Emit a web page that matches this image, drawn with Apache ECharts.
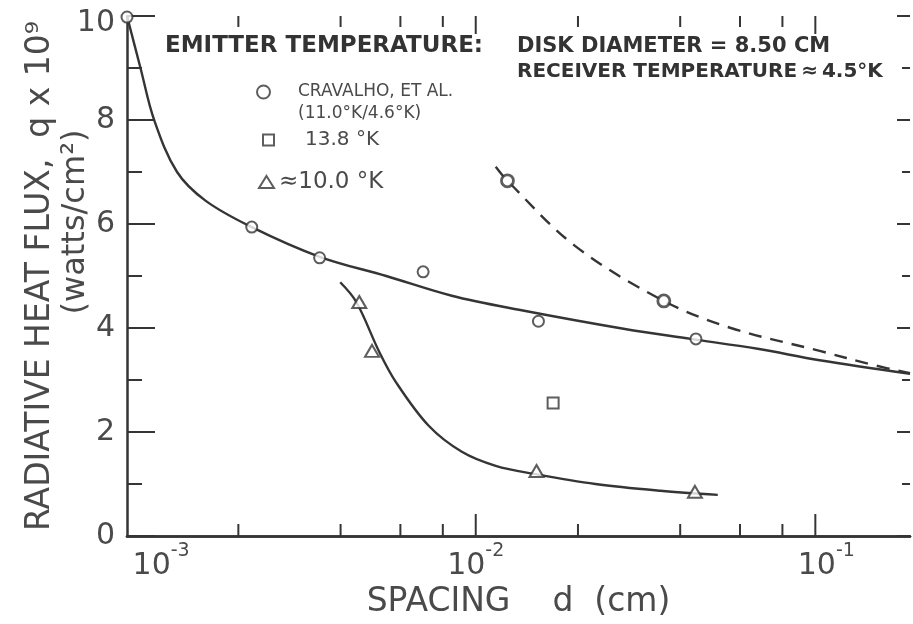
<!DOCTYPE html>
<html>
<head>
<meta charset="utf-8">
<script src="https://cdn.jsdelivr.net/npm/echarts@6/dist/echarts.min.js"></script>
<style>
  html, body { margin: 0; padding: 0; background: #fff; }
  #chart { width: 913px; height: 624px; }
</style>
</head>
<body>
<div id="chart"></div>
<script>
// ---- data: spacing d (cm) vs radiative heat flux q x 10^9 (W/cm^2) ----
const mainCurve = [
  [9.4e-4, 10.0], [1.03e-3, 9.0], [1.13e-3, 8.0], [1.32e-3, 7.0], [1.6e-3, 6.45],
  [2.19e-3, 5.94], [3.47e-3, 5.37], [5.45e-3, 5.0], [8.5e-3, 4.62], [1.34e-2, 4.35],
  [2.75e-2, 3.98], [4.3e-2, 3.79], [6.76e-2, 3.6], [0.103, 3.38], [0.19, 3.12]
];
const openCircles = [
  [9.4e-4, 9.98], [2.19e-3, 5.94], [3.47e-3, 5.35], [7.0e-3, 5.08], [1.53e-2, 4.13], [4.45e-2, 3.79]
];
const cravalhoCurve = [
  [1.145e-2, 7.10], [1.24e-2, 6.83], [1.96e-2, 5.58], [3.58e-2, 4.52], [5.64e-2, 4.0],
  [0.103, 3.56], [0.148, 3.29], [0.19, 3.13]
];
const cravalhoPoints = [[1.24e-2, 6.83], [3.58e-2, 4.52]];
const squarePoints = [[1.69e-2, 2.56]];
const triangleCurve = [
  [3.99e-3, 4.88], [4.45e-3, 4.5], [5.2e-3, 3.54], [5.82e-3, 2.96], [7.27e-3, 2.12],
  [9.1e-3, 1.62], [1.145e-2, 1.35], [1.5e-2, 1.19], [2.25e-2, 1.0], [3.5e-2, 0.87], [5.16e-2, 0.79]
];
const trianglePoints = [[4.54e-3, 4.5], [4.95e-3, 3.56], [1.51e-2, 1.25], [4.42e-2, 0.85]];

// tick marks drawn on the spacing axes (long at decades, short at 2,4,6,8)
const xMajorTicks = [1e-2, 1e-1];
const xMinorTicks = [2e-3, 4e-3, 6e-3, 8e-3, 2e-2, 4e-2, 6e-2, 8e-2];

// legend / annotation texts
const seriesNames = ['CRAVALHO, ET AL.', '13.8 °K', '≈10.0 °K'];
const cravalhoSubtitle = '(11.0°K/4.6°K)';
const headerLeft = 'EMITTER TEMPERATURE:';
const headerRight = ['DISK DIAMETER = 8.50 CM', 'RECEIVER TEMPERATURE\u2009≈\u20094.5°K'];
const xTitle = 'SPACING    d  (cm)';
const yTitle = 'RADIATIVE HEAT FLUX,  q x 10⁹';
const yUnit = '(watts/cm²)';

const X_MIN = 9.4e-4, X_MAX = 0.19;
const INK = '#353535';
const TXT = '#4a4a4a';
const FONT = '"DejaVu Sans", "Liberation Sans", sans-serif';
const LW = 2.4;

const xTickData = xMajorTicks.map(v => [v, 1]).concat(xMinorTicks.map(v => [v, 0]));

const chart = echarts.init(document.getElementById('chart'), null, { renderer: 'canvas' });

// decade labels are set a little to the right of their tick, more so at the ends
const labelLead = { '-3': 'l3', '-2': '', '-1': 'l1' };
function decadeLabel(v) {
  const e = Math.log10(v);
  if (Math.abs(e - Math.round(e)) > 1e-6) return '';
  const k = String(Math.round(e));
  const lead = labelLead[k] ? '{' + labelLead[k] + '|}' : '';
  return lead + '{b|10}{s|' + k + '}';
}
// the top flux label sits just below the corner
function fluxLabel(v) {
  return v === 10 ? '{top|10}' : String(v);
}

const legendBase = {
  orient: 'vertical',
  padding: 0,
  selectedMode: false,
  inactiveColor: INK
};

const option = {
  animation: false,
  backgroundColor: '#fff',
  grid: { left: 127, right: 0, top: 16, bottom: 87, containLabel: false },
  xAxis: [
    {
      type: 'log', logBase: 10, min: X_MIN, max: X_MAX, position: 'bottom',
      axisLine: { show: true, lineStyle: { color: INK, width: 2.5 } },
      axisTick: { show: false }, splitLine: { show: false },
      axisLabel: {
        show: true, margin: 6, formatter: decadeLabel,
        showMinLabel: true, showMaxLabel: true,
        rich: {
          b: { fontSize: 30, color: TXT, fontFamily: FONT, padding: [9, 0, 0, 0] },
          s: { fontSize: 19, color: TXT, fontFamily: FONT, verticalAlign: 'top' },
          l3: { width: 50, height: 10 },
          l1: { width: 22, height: 10 }
        }
      },
      name: xTitle, nameLocation: 'middle', nameGap: 50,
      nameTextStyle: { fontSize: 33, color: TXT, fontFamily: FONT }
    },
    {
      type: 'log', logBase: 10, min: X_MIN, max: X_MAX, position: 'top',
      axisLine: { show: true, lineStyle: { color: INK, width: 2.5 } },
      axisTick: { show: false }, axisLabel: { show: false }, splitLine: { show: false }
    }
  ],
  yAxis: [
    {
      type: 'value', min: 0, max: 10, interval: 2, position: 'left',
      axisLine: { show: true, lineStyle: { color: INK, width: 2.5 } },
      axisTick: { show: true, inside: true, length: 28, lineStyle: { color: INK, width: 2 } },
      minorTick: { show: true, splitNumber: 2, length: 15, lineStyle: { color: INK, width: 2 } },
      splitLine: { show: false }, minorSplitLine: { show: false },
      axisLabel: {
        color: TXT, fontSize: 30, fontFamily: FONT, margin: 12, formatter: fluxLabel,
        rich: { top: { fontSize: 30, color: TXT, fontFamily: FONT, padding: [14, 0, 0, 0] } }
      },
      name: yTitle, nameLocation: 'middle', nameRotate: 90, nameGap: 70,
      nameTextStyle: { fontSize: 33, color: TXT, fontFamily: FONT }
    },
    {
      type: 'value', min: 0, max: 10, interval: 2, position: 'right',
      axisLine: { show: false },
      axisTick: { show: true, inside: true, length: 13, lineStyle: { color: INK, width: 2 } },
      minorTick: { show: true, splitNumber: 2, length: 8, lineStyle: { color: INK, width: 2 } },
      splitLine: { show: false }, axisLabel: { show: false }
    }
  ],
  legend: [
    Object.assign({}, legendBase, {
      data: [seriesNames[0]], left: 256, top: 59, itemWidth: 13, itemHeight: 13,
      formatter: n => '\n{g|}' + n + '\n{g|}' + cravalhoSubtitle,
      textStyle: { fontSize: 17, color: TXT, fontFamily: FONT, lineHeight: 22,
        rich: { g: { width: 23 } } }
    }),
    Object.assign({}, legendBase, {
      data: [seriesNames[1]], left: 262, top: 128, itemWidth: 11, itemHeight: 11,
      formatter: n => '{g|}' + n,
      textStyle: { fontSize: 20, color: TXT, fontFamily: FONT, lineHeight: 24,
        rich: { g: { width: 26 } } }
    }),
    Object.assign({}, legendBase, {
      data: [seriesNames[2]], left: 258, top: 168, itemWidth: 15, itemHeight: 12,
      textStyle: { fontSize: 23, color: TXT, fontFamily: FONT, lineHeight: 28 }
    })
  ],
  graphic: [
    { type: 'text', left: 165, top: 35, silent: true,
      style: { text: headerLeft, font: 'bold 23px ' + FONT, fill: '#333' } },
    { type: 'text', left: 517, top: 36, silent: true,
      style: { text: headerRight[0], font: 'bold 21px ' + FONT, fill: '#333' } },
    { type: 'text', left: 517, top: 62, silent: true,
      style: { text: headerRight[1], font: 'bold 20px ' + FONT, fill: '#333' } },
    { type: 'text', x: 76, y: 222, rotation: Math.PI / 2, silent: true,
      style: { text: yUnit, font: '32px ' + FONT, fill: TXT, align: 'center', verticalAlign: 'middle' } }
  ],
  series: [
    {
      type: 'line', data: mainCurve, smooth: 0.35, showSymbol: false,
      lineStyle: { color: INK, width: LW }, silent: true, z: 2
    },
    {
      type: 'scatter', data: openCircles, symbol: 'circle', symbolSize: 11,
      itemStyle: { color: '#fff', borderColor: INK, borderWidth: 2 }, silent: true, z: 4
    },
    {
      type: 'line', data: cravalhoCurve, smooth: 0.35, showSymbol: false,
      lineStyle: { color: INK, width: LW, type: [13, 9] }, silent: true, z: 2
    },
    {
      name: seriesNames[0], type: 'scatter', data: cravalhoPoints, symbol: 'circle', symbolSize: 12,
      itemStyle: { color: '#fff', borderColor: INK, borderWidth: 2.8 }, silent: true, z: 4
    },
    {
      name: seriesNames[1], type: 'scatter', data: squarePoints, symbol: 'rect', symbolSize: 11,
      itemStyle: { color: '#fff', borderColor: INK, borderWidth: 2 }, silent: true, z: 4
    },
    {
      type: 'line', data: triangleCurve, smooth: 0.35, showSymbol: false,
      lineStyle: { color: INK, width: LW }, silent: true, z: 2
    },
    {
      name: seriesNames[2], type: 'scatter', data: trianglePoints, symbol: 'triangle', symbolSize: [14, 12],
      itemStyle: { color: '#fff', borderColor: INK, borderWidth: 2 }, silent: true, z: 4
    },
    {
      // tick marks for both spacing axes (bottom pointing up, top pointing down)
      type: 'custom', data: xTickData, silent: true, z: 5,
      encode: { x: 0, y: 1 },
      renderItem: function (params, api) {
        const v = api.value(0);
        const major = api.value(1) === 1;
        const pb = api.coord([v, 0]);
        const pt = api.coord([v, 10]);
        const lb = major ? 22 : 12;
        const lt = major ? 18 : 11;
        const st = { stroke: INK, lineWidth: 2 };
        return {
          type: 'group',
          children: [
            { type: 'line', shape: { x1: pb[0], y1: pb[1], x2: pb[0], y2: pb[1] - lb }, style: st },
            { type: 'line', shape: { x1: pt[0], y1: pt[1], x2: pt[0], y2: pt[1] + lt }, style: st }
          ]
        };
      }
    }
  ]
};

chart.setOption(option);
</script>
</body>
</html>
